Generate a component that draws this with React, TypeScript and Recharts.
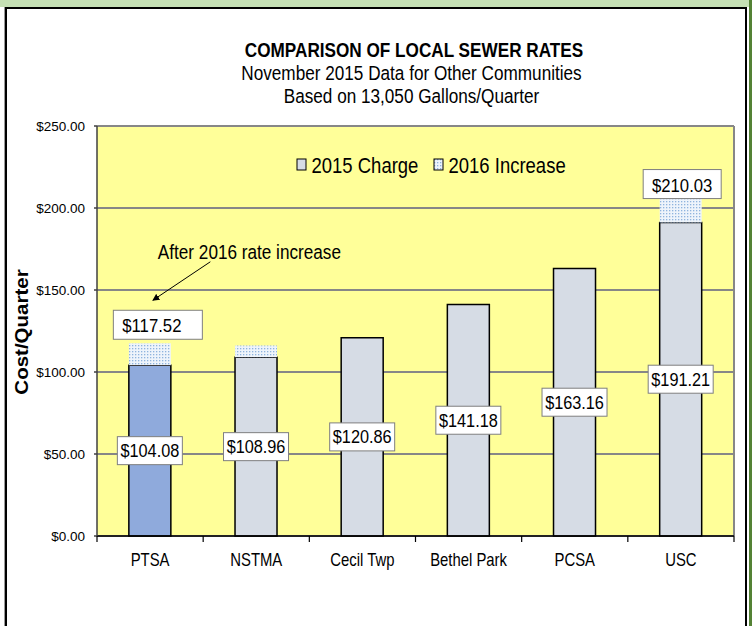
import React from "react";
import { BarChart, Bar, XAxis, YAxis, CartesianGrid, Legend, LabelList, Cell } from "recharts";

const communities = ["PTSA", "NSTMA", "Cecil Twp", "Bethel Park", "PCSA", "USC"];
const charge2015 = [104.08, 108.96, 120.86, 141.18, 163.16, 191.21];
const increase2016 = [13.44, 7.2, 0, 0, 0, 18.82];
const totalLabels = [117.52, null, null, null, null, 210.03];
const yTicks = [0, 50, 100, 150, 200, 250];

const data = communities.map((name, i) => ({
  name,
  charge: charge2015[i],
  increase: increase2016[i],
  total: totalLabels[i],
}));

const W = 753;
const H = 626;
const M = { top: 126, right: 19, left: 37, bottom: 50 };
const Y_W = 60;
const X_H = 40;
const BAND = (W - M.left - Y_W - M.right) / communities.length;
const FONT = "'Liberation Sans', Arial, sans-serif";
const money = (v: number) => `$${v.toFixed(2)}`;

// excel text looks squeezed horizontally, so scale x a bit
const SText = ({ x, y, size, sx = 0.88, bold = false, anchor = "middle", rotate = 0, children }: any) => (
  <text
    transform={`translate(${x},${y})${rotate ? ` rotate(${rotate})` : ""} scale(${sx},1)`}
    textAnchor={anchor}
    fontSize={size}
    fontWeight={bold ? "bold" : "normal"}
    fontFamily={FONT}
    fill="#000"
  >
    {children}
  </text>
);

const DotPattern = ({ id }: { id: string }) => (
  <pattern id={id} width={3} height={3} patternUnits="userSpaceOnUse">
    <rect width={3} height={3} fill="#eef4fb" />
    <rect width={1.3} height={1.3} fill="#8fb4de" />
  </pattern>
);

const ChargeLabel = (p: any) => {
  const vb = p.viewBox ?? p;
  const cx = vb.x + vb.width / 2;
  const cy = vb.y + vb.height / 2;
  return (
    <g>
      <rect x={cx - 32.5} y={cy - 14} width={65} height={28} fill="#fff" stroke="#7f7f7f" />
      <SText x={cx} y={cy + 6.5} size={18.5}>{money(p.value)}</SText>
    </g>
  );
};

// label boxes were hand-moved in the original, small tweaks per bar
const totalBox: Record<number, { dx: number; dy: number; w: number; tx: number }> = {
  0: { dx: 8, dy: -33, w: 89, tx: 2 },
  5: { dx: 1.5, dy: -22, w: 78, tx: 1.5 },
};

const TotalLabel = (p: any) => {
  const total = p.value;
  if (total == null || total === "") return null;
  const idx = totalLabels.indexOf(Number(total));
  const b = totalBox[idx];
  if (!b) return null;
  const vb = p.viewBox ?? p;
  const cx = vb.x + vb.width / 2;
  const top = vb.y;
  const boxCx = cx + b.dx;
  return (
    <g>
      <rect x={boxCx - b.w / 2} y={top + b.dy} width={b.w} height={29} fill="#fff" stroke="#7f7f7f" />
      <SText x={cx + b.tx} y={top + b.dy + 22} size={19}>{money(Number(total))}</SText>
      {idx === 0 && (
        <g>
          <SText x={vb.x + 29} y={top - 84} size={19.5} anchor="start">After 2016 rate increase</SText>
          <line
            x1={vb.x + 81.5}
            y1={top - 81.5}
            x2={vb.x + 24}
            y2={top - 43}
            stroke="#000"
            strokeWidth={1}
            markerEnd="url(#arrow)"
          />
        </g>
      )}
    </g>
  );
};

const XTick = (p: any) => {
  const { x, y, payload, index } = p;
  return (
    <g>
      <line x1={x - BAND / 2} x2={x - BAND / 2} y1={y} y2={y + 6} stroke="#000" strokeWidth={1.2} />
      {index === communities.length - 1 && (
        <line x1={x + BAND / 2} x2={x + BAND / 2} y1={y} y2={y + 6} stroke="#000" strokeWidth={1.2} />
      )}
      <SText x={x} y={y + 30} size={17.5} sx={0.85}>{payload.value}</SText>
    </g>
  );
};

const LegendBox = () => (
  <svg width={300} height={32}>
    <defs>
      <DotPattern id="dotsLegend" />
    </defs>
    <rect x={7} y={9} width={9} height={11} fill="#D6DCE5" stroke="#000" />
    <SText x={21.5} y={22.5} size={21.5} sx={0.86} anchor="start">2015 Charge</SText>
    <rect x={144} y={9} width={9} height={11} fill="url(#dotsLegend)" stroke="#000" />
    <SText x={158.5} y={22.5} size={21.5} sx={0.86} anchor="start">2016 Increase</SText>
  </svg>
);

export default function App() {
  return (
    <div style={{ position: "absolute", left: 0, top: 0, width: W, height: H, background: "#fff", overflow: "hidden" }}>
      <div style={{ position: "absolute", left: 0, top: 0, width: 749, height: 7, background: "#C5E0B4" }} />
      <div style={{ position: "absolute", left: 749, top: 0, width: 3, height: H, background: "#548235" }} />
      <div
        style={{
          position: "absolute",
          left: 5,
          top: 7,
          width: 738,
          height: 660,
          border: "2px solid #000",
          boxShadow: "-1px 0 0 #9a9a9a",
        }}
      />
      <div style={{ position: "absolute", left: 0, top: 0 }}>
        <BarChart width={W} height={H} data={data} margin={M} barCategoryGap="30%">
          <defs>
            <DotPattern id="dots" />
            <marker id="arrow" viewBox="0 0 10 10" refX={9} refY={5} markerWidth={7} markerHeight={7} orient="auto">
              <path d="M0,0 L10,5 L0,10 z" fill="#000" />
            </marker>
          </defs>
          <CartesianGrid
            fill="#FFFF99"
            stroke="#878787"
            strokeWidth={2}
            verticalCoordinatesGenerator={({ offset }: any) => [offset.left + offset.width]}
          />
          <XAxis
            dataKey="name"
            height={X_H}
            tickLine={false}
            tickSize={0}
            tickMargin={0}
            axisLine={{ stroke: "#000", strokeWidth: 1.5 }}
            tick={<XTick />}
            interval={0}
          />
          <YAxis
            width={Y_W}
            domain={[0, 250]}
            ticks={yTicks}
            tickFormatter={money}
            tickSize={3}
            tickMargin={9}
            axisLine={{ stroke: "#404040", strokeWidth: 1.5 }}
            tickLine={{ stroke: "#404040", strokeWidth: 1.5 }}
            tick={{ fontSize: 13.5, fill: "#000", fontFamily: FONT }}
          />
          <Legend
            layout="horizontal"
            verticalAlign="middle"
            align="center"
            content={<LegendBox />}
            wrapperStyle={{ top: 150, left: 290, width: 300, height: 32 }}
          />
          <Bar dataKey="charge" stackId="a" stroke="#000" strokeWidth={1.5} isAnimationActive={false}>
            {data.map((d, i) => (
              <Cell key={d.name} fill={i === 0 ? "#8FAADC" : "#D6DCE5"} />
            ))}
            <LabelList dataKey="charge" content={<ChargeLabel />} />
          </Bar>
          <Bar dataKey="increase" stackId="a" fill="url(#dots)" isAnimationActive={false}>
            <LabelList dataKey="total" content={<TotalLabel />} />
          </Bar>
        </BarChart>
      </div>
      <svg width={W} height={H} style={{ position: "absolute", left: 0, top: 0, pointerEvents: "none" }}>
        <SText x={414} y={56.5} size={19.5} bold>COMPARISON OF LOCAL SEWER RATES</SText>
        <SText x={411.5} y={80} size={19.5}>November 2015 Data for Other Communities</SText>
        <SText x={411.5} y={103} size={19.5}>Based on 13,050 Gallons/Quarter</SText>
        <SText x={28} y={332} size={19} sx={1.08} bold rotate={-90}>Cost/Quarter</SText>
      </svg>
    </div>
  );
}
